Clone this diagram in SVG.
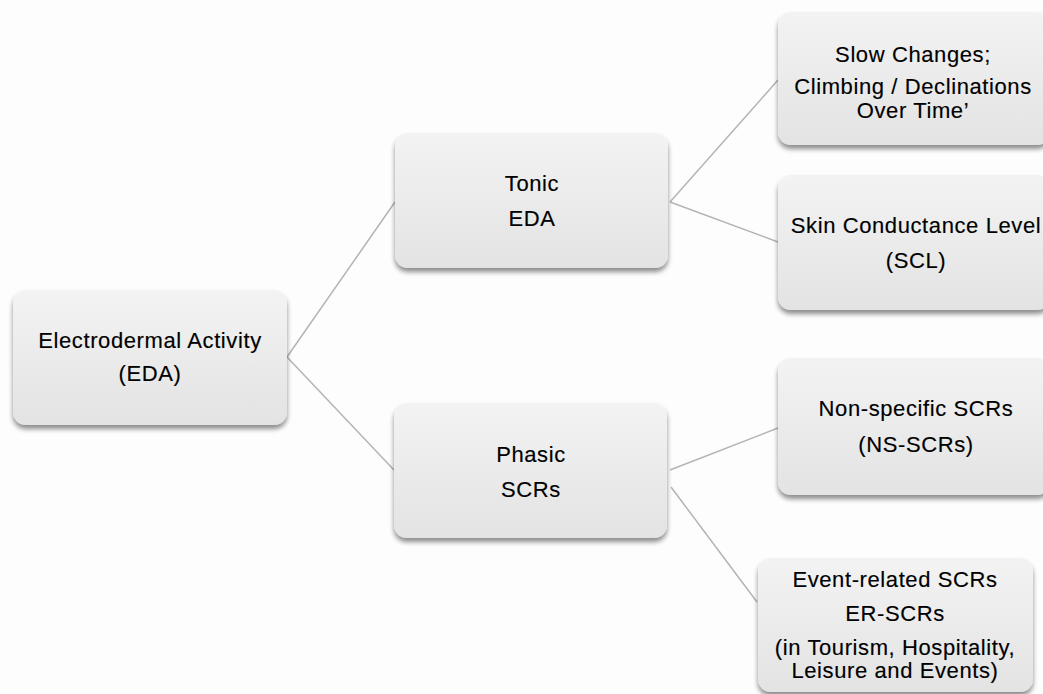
<svg xmlns="http://www.w3.org/2000/svg" width="1043" height="694" viewBox="0 0 1043 694">
<defs>
<linearGradient id="g" x1="0" y1="0" x2="0" y2="1">
<stop offset="0" stop-color="#f3f3f3"/>
<stop offset="1" stop-color="#e3e3e3"/>
</linearGradient>
<filter id="sh" x="-10%" y="-10%" width="120%" height="130%">
<feGaussianBlur in="SourceAlpha" stdDeviation="2.5"/>
<feOffset dx="0" dy="4" result="b"/>
<feComponentTransfer><feFuncA type="linear" slope="0.45"/></feComponentTransfer>
<feMerge><feMergeNode/><feMergeNode in="SourceGraphic"/></feMerge>
</filter>
</defs>
<style>
.box{fill:url(#g);filter:url(#sh);}
.t{font-family:"Liberation Sans",Arial,sans-serif;font-size:22px;fill:#000;text-anchor:middle;letter-spacing:0.6px;stroke:#000;stroke-width:0.15px;}
.c{stroke:#b4b4b4;stroke-width:1.5;fill:none;}
</style>
<rect width="1043" height="694" fill="#fdfdfd"/>
<g id="connectors">
<line class="c" x1="287" y1="357" x2="395" y2="202"/>
<line class="c" x1="287" y1="357" x2="394" y2="470"/>
<line class="c" x1="670" y1="202" x2="778" y2="80"/>
<line class="c" x1="670" y1="202" x2="778" y2="242"/>
<line class="c" x1="670" y1="470" x2="778" y2="428"/>
<line class="c" x1="671" y1="487" x2="757" y2="602"/>
</g>
<g id="eda">
<rect class="box" x="13" y="290" width="274" height="135" rx="13"/>
<text class="t" x="150" y="348">Electrodermal Activity</text>
<text class="t" x="150" y="381">(EDA)</text>
</g>
<g id="tonic">
<rect class="box" x="395" y="133" width="273" height="135" rx="13"/>
<text class="t" x="532" y="191">Tonic</text>
<text class="t" x="532" y="226">EDA</text>
</g>
<g id="phasic">
<rect class="box" x="394" y="403" width="273" height="135" rx="13"/>
<text class="t" x="531" y="462">Phasic</text>
<text class="t" x="531" y="497">SCRs</text>
</g>
<g id="slow">
<rect class="box" x="778" y="12" width="272" height="133" rx="13"/>
<text class="t" x="913" y="62">Slow Changes;</text>
<text class="t" x="913" y="94">Climbing / Declinations</text>
<text class="t" x="913" y="118">Over Time’</text>
</g>
<g id="scl">
<rect class="box" x="778" y="175" width="272" height="135" rx="13"/>
<text class="t" x="916" y="233">Skin Conductance Level</text>
<text class="t" x="916" y="268">(SCL)</text>
</g>
<g id="ns">
<rect class="box" x="778" y="358" width="272" height="137" rx="13"/>
<text class="t" x="916" y="416">Non-specific SCRs</text>
<text class="t" x="916" y="452">(NS-SCRs)</text>
</g>
<g id="er">
<rect class="box" x="758" y="558" width="275" height="134" rx="13"/>
<text class="t" x="895" y="587">Event-related SCRs</text>
<text class="t" x="895" y="621">ER-SCRs</text>
<text class="t" x="895" y="655">(in Tourism, Hospitality,</text>
<text class="t" x="895" y="678">Leisure and Events)</text>
</g>
</svg>
